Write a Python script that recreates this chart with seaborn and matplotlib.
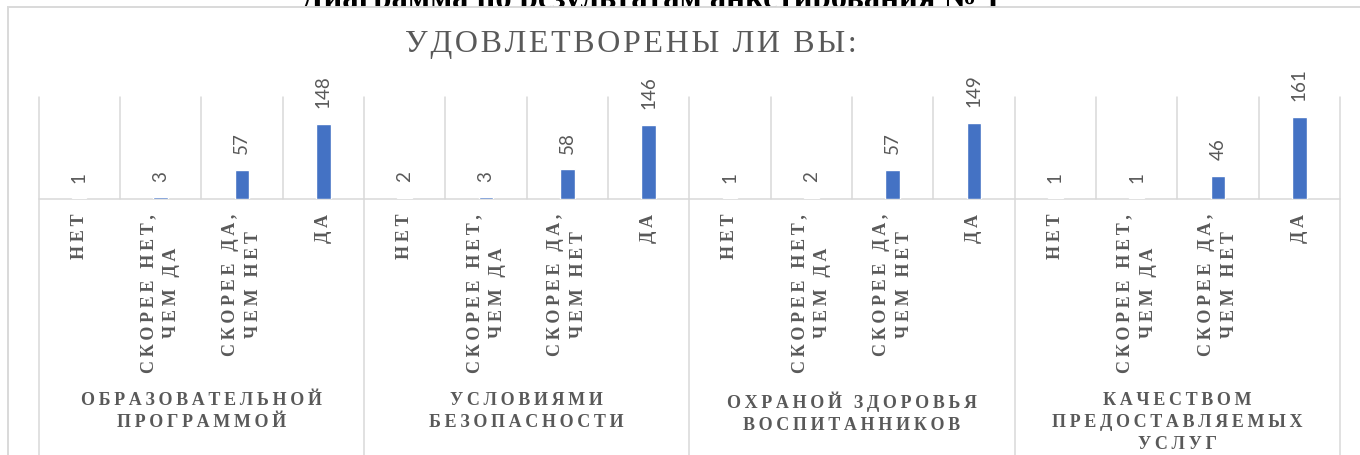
import numpy as np
import pandas as pd
import matplotlib
matplotlib.use("Agg")
import matplotlib.pyplot as plt
import matplotlib.transforms as mtransforms
from matplotlib.patches import Rectangle
import seaborn as sns

# ─── Data ─────────────────────────────────────────────────────────
groups = [
    "ОБРАЗОВАТЕЛЬНОЙ\nПРОГРАММОЙ",
    "УСЛОВИЯМИ\nБЕЗОПАСНОСТИ",
    "ОХРАНОЙ ЗДОРОВЬЯ\nВОСПИТАННИКОВ",
    "КАЧЕСТВОМ\nПРЕДОСТАВЛЯЕМЫХ\nУСЛУГ",
]
answers = ["НЕТ", "СКОРЕЕ НЕТ,\nЧЕМ ДА", "СКОРЕЕ ДА,\nЧЕМ НЕТ", "ДА"]
counts_programme = [1, 3, 57, 148]
counts_safety    = [2, 3, 58, 146]
counts_health    = [1, 2, 57, 149]
counts_quality   = [1, 1, 46, 161]

main_title  = "Диаграмма по результатам анкетирования № 1"
chart_title = "УДОВЛЕТВОРЕНЫ ЛИ ВЫ:"

# ─── Palette ──────────────────────────────────────────────────────
BLUE   = "#4472C4"
GRAY   = "#595959"
BORDER = "#D9D9D9"
WHITE  = "#FFFFFF"

sns.set_style("white")
SERIF = ["Liberation Serif", "DejaVu Sans"]
SANS  = ["Lato", "DejaVu Sans"]
plt.rcParams["font.family"] = SERIF

LABEL_GAP = "\u2009"   # letter spacing for axis labels
TITLE_GAP = "\u200a"   # letter spacing for the chart title


def spaced(text, gap):
    # emulate Excel character spacing: small gap between every letter
    lines = []
    for line in text.split("\n"):
        words = [gap.join(w) for w in line.split(" ")]
        lines.append((gap + " " + gap).join(words))
    return "\n".join(lines)


all_counts = [counts_programme, counts_safety, counts_health, counts_quality]
rows = []
for g, vals in zip(groups, all_counts):
    for a, v in zip(answers, vals):
        rows.append({"key": g + "|" + a, "group": g, "answer": a, "count": v})
df = pd.DataFrame(rows)
order = list(df["key"])

W, H = 1360, 456
fig = plt.figure(figsize=(W / 100, H / 100), dpi=100)
fig.patch.set_facecolor(WHITE)

# document heading sits behind the chart frame (only lower part visible)
fig.text(651 / W, 1 - 8 / H, main_title, ha="center", va="baseline",
         fontsize=23.5, fontweight="bold", color="black", family=SERIF, zorder=1)

# chart area: white box with light border, overlapping the heading
frame = Rectangle((8 / W, -0.1), 1.2, 1 - 8 / H + 0.1, transform=fig.transFigure,
                  facecolor=WHITE, edgecolor=BORDER, linewidth=1.4, zorder=2)
fig.patches.append(frame)

fig.text(631 / W, 1 - 52 / H, spaced(chart_title, TITLE_GAP), ha="center",
         va="baseline", fontsize=23, color=GRAY, family=SERIF, zorder=3)

left, right, top, bottom = 38.5, 1340, 98, 200
ax = fig.add_axes([left / W, 1 - bottom / H, (right - left) / W, (bottom - top) / H])
ax.set_zorder(3)
ax.patch.set_alpha(0)

sns.barplot(data=df, x="key", y="count", order=order, color=BLUE,
            saturation=1, width=0.18, errorbar=None, ax=ax, zorder=3)

for c in ax.containers:
    labels = ax.bar_label(c, padding=12, rotation=90, fontsize=13.5,
                          color=GRAY, family=SANS)
    for t in labels:
        t.set_clip_on(False)

ax.set_xlim(-0.5, len(order) - 0.5)
ax.set_ylim(0, 200)
ax.set_yticks([])
ax.set_xlabel("")
ax.set_ylabel("")
for s in ax.spines.values():
    s.set_visible(False)

ax.set_xticks(range(len(order)))
ax.set_xticklabels([spaced(a, LABEL_GAP) for a in df["answer"]], rotation=90,
                   ha="center", va="top", multialignment="center",
                   fontsize=13, fontweight="bold", color=GRAY, family=SERIF,
                   linespacing=1.45)
ax.tick_params(axis="x", length=0, pad=10)

# separators: inner category lines above axis, group lines run to the bottom
blend = mtransforms.blended_transform_factory(ax.transData, ax.transAxes)
n_ans = len(answers)
for i in range(len(order) + 1):
    x = i - 0.5
    y_end = -3 if i % n_ans == 0 else 0
    ax.plot([x, x], [1, y_end], color=BORDER, lw=1.1, transform=blend,
            clip_on=False, zorder=1)
ax.axhline(0, color=BORDER, lw=1.1, zorder=2, clip_on=False)

# group labels
gblend = mtransforms.blended_transform_factory(ax.transData, fig.transFigure)
for gi, g in enumerate(groups):
    xc = gi * n_ans + (n_ans - 1) / 2
    ax.text(xc, 1 - 392 / H, spaced(g, LABEL_GAP), transform=gblend,
            ha="center", va="top", multialignment="center", fontsize=13,
            fontweight="bold", color=GRAY, family=SERIF, linespacing=1.38,
            clip_on=False)

fig.savefig("out.png", dpi=100, facecolor=WHITE)
